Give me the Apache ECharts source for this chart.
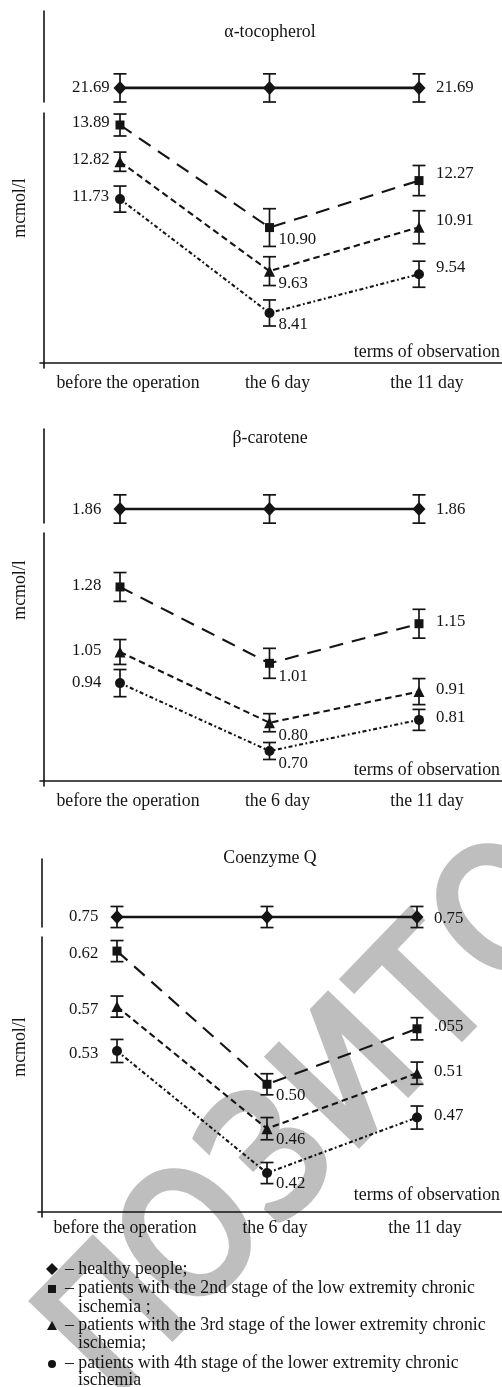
<!DOCTYPE html>
<html><head><meta charset="utf-8">
<script src="https://cdn.jsdelivr.net/npm/echarts@6/dist/echarts.min.js"></script>
<style>html,body{margin:0;padding:0;background:#fff}#c{width:502px;height:1387px}</style>
</head><body><div id="c"></div>
<script>
// ---------- DATA ----------
const categories = ['before the operation', 'the 6 day', 'the 11 day'];
const axisName = 'terms of observation';
const unitName = 'mcmol/l';

// α-tocopherol
const tocoHealthy = [21.69, 21.69, 21.69];
const tocoStage2  = [13.89, 10.90, 12.27];
const tocoStage3  = [12.82, 9.63, 10.91];
const tocoStage4  = [11.73, 8.41, 9.54];
const tocoErrH = [0.41, 0.41, 0.41];
const tocoErr2 = [0.32, 0.55, 0.44];
const tocoErr3 = [0.28, 0.42, 0.48];
const tocoErr4 = [0.38, 0.38, 0.38];
const tocoLblH = ['21.69', '', '21.69'];
const tocoLbl2 = ['13.89', '10.90', '12.27'];
const tocoLbl3 = ['12.82', '9.63', '10.91'];
const tocoLbl4 = ['11.73', '8.41', '9.54'];

// β-carotene
const caroHealthy = [1.86, 1.86, 1.86];
const caroStage2  = [1.28, 1.01, 1.15];
const caroStage3  = [1.05, 0.80, 0.91];
const caroStage4  = [0.94, 0.70, 0.81];
const caroErrH = [0.05, 0.05, 0.05];
const caroErr2 = [0.051, 0.053, 0.051];
const caroErr3 = [0.044, 0.032, 0.046];
const caroErr4 = [0.048, 0.030, 0.037];
const caroLblH = ['1.86', '', '1.86'];
const caroLbl2 = ['1.28', '1.01', '1.15'];
const caroLbl3 = ['1.05', '0.80', '0.91'];
const caroLbl4 = ['0.94', '0.70', '0.81'];

// Coenzyme Q
const coqHealthy = [0.75, 0.75, 0.75];
const coqStage2  = [0.62, 0.50, 0.55];
const coqStage3  = [0.57, 0.46, 0.51];
const coqStage4  = [0.53, 0.42, 0.47];
const coqErrH = [0.0095, 0.0095, 0.0095];
const coqErr2 = [0.0095, 0.0095, 0.010];
const coqErr3 = [0.0095, 0.010, 0.010];
const coqErr4 = [0.0104, 0.0095, 0.0104];
const coqLblH = ['0.75', '', '0.75'];
const coqLbl2 = ['0.62', '0.50', '.055'];
const coqLbl3 = ['0.57', '0.46', '0.51'];
const coqLbl4 = ['0.53', '0.42', '0.47'];

const legendTexts = [
  ['– healthy people;'],
  ['– patients with the 2nd stage of the low extremity chronic', 'ischemia ;'],
  ['– patients with the 3rd stage of the lower extremity chronic', 'ischemia;'],
  ['– patients with 4th stage of the lower extremity chronic', 'ischemia']
];
const watermarkText = 'ПОЗИТО';

// ---------- STYLE / LAYOUT ----------
const INK = '#141414';
const SERIF = '"Liberation Serif", "Times New Roman", serif';
const FS_TXT = 17.8, FS_NUM = 16.8;
const W = 502;

const marks = [
  {symbol: 'diamond', size: [13, 14], dash: 'solid', width: 2.6},
  {symbol: 'rect', size: [9, 9], dash: [14, 9], width: 2.1},
  {symbol: 'triangle', size: [11, 11], dash: [6.5, 4], width: 2.1},
  {symbol: 'circle', size: [10, 10], dash: [4, 2.5, 1.8, 2.5], width: 2.1}
];

const panels = [
  {title: 'α-tocopherol', titleY: 32, left: 40, ptX0: 120, step: 149.5,
   top: [11, 91], bot: [113, 255], topRange: [21.28, 23.93], botRange: [6.806, 14.24],
   xOff: 5, lblMargin: 11, termsPad: 2, unitY: 208,
   dyH: [0, 0], dy: [-2, 12, -7],
   vals: [tocoHealthy, tocoStage2, tocoStage3, tocoStage4],
   errs: [tocoErrH, tocoErr2, tocoErr3, tocoErr4],
   lbls: [tocoLblH, tocoLbl2, tocoLbl3, tocoLbl4]},
  {title: 'β-carotene', titleY: 438, left: 40, ptX0: 120, step: 149.5,
   top: [429, 94], bot: [533, 253], topRange: [1.8105, 2.143], botRange: [0.5762, 1.4708],
   xOff: 5, lblMargin: 11, termsPad: 2, unitY: 590,
   dyH: [1, 1], dy: [-1, 13, -2],
   vals: [caroHealthy, caroStage2, caroStage3, caroStage4],
   errs: [caroErrH, caroErr2, caroErr3, caroErr4],
   lbls: [caroLblH, caroLbl2, caroLbl3, caroLbl4]},
  {title: 'Coenzyme Q', titleY: 858, left: 38, ptX0: 117, step: 150,
   top: [859, 68], bot: [937, 280], topRange: [0.741, 0.8023], botRange: [0.3804, 0.6327],
   xOff: 5, lblMargin: 7, termsPad: 8, unitY: 1047,
   dyH: [0, 2], dy: [3, 11, -2],
   vals: [coqHealthy, coqStage2, coqStage3, coqStage4],
   errs: [coqErrH, coqErr2, coqErr3, coqErr4],
   lbls: [coqLblH, coqLbl2, coqLbl3, coqLbl4]}
];

const grids = [], xAxes = [], yAxes = [], series = [], graphics = [];

function errRender(params, api) {
  const x = api.value(0), v = api.value(1), e = api.value(2);
  const t = api.coord([x, v + e]), b = api.coord([x, v - e]);
  const hw = 6.5, st = {stroke: INK, lineWidth: 1.7};
  return {type: 'group', children: [
    {type: 'line', shape: {x1: t[0], y1: t[1], x2: b[0], y2: b[1]}, style: st},
    {type: 'line', shape: {x1: t[0] - hw, y1: t[1], x2: t[0] + hw, y2: t[1]}, style: st},
    {type: 'line', shape: {x1: b[0] - hw, y1: b[1], x2: b[0] + hw, y2: b[1]}, style: st}
  ]};
}

panels.forEach((p, pi) => {
  const xmin = -(p.ptX0 - p.left) / p.step;
  const xmax = 2 + (W - (p.ptX0 + 2 * p.step)) / p.step;
  const gTop = grids.length, gBot = gTop + 1;
  grids.push({left: p.left, right: 0, top: p.top[0], height: p.top[1], containLabel: false, outerBoundsMode: 'none'});
  grids.push({left: p.left, right: 0, top: p.bot[0], height: p.bot[1], containLabel: false, outerBoundsMode: 'none'});
  const baseX = {type: 'value', min: xmin, max: xmax, splitLine: {show: false}, axisTick: {show: false}};
  xAxes.push(Object.assign({}, baseX, {gridIndex: gTop, show: false}));
  xAxes.push(Object.assign({}, baseX, {
    gridIndex: gBot, position: 'bottom', offset: -p.xOff,
    axisLine: {show: true, onZero: false, lineStyle: {color: INK, width: 1.6}},
    axisLabel: {show: true, customValues: [0, 1, 2], formatter: v => categories[Math.round(v)],
      fontFamily: SERIF, fontSize: FS_TXT, color: INK, margin: p.lblMargin, padding: [0, 0, 0, 16]},
    name: axisName, nameLocation: 'end', nameGap: -2,
    nameTextStyle: {fontFamily: SERIF, fontSize: FS_TXT, color: INK, align: 'right', verticalAlign: 'bottom', padding: [0, 0, p.termsPad, 0]}
  }));
  const baseY = {type: 'value', position: 'left', offset: -4, splitLine: {show: false}, axisTick: {show: false},
    axisLabel: {show: false}, axisLine: {show: true, onZero: false, lineStyle: {color: INK, width: 1.6}}};
  yAxes.push(Object.assign({}, baseY, {gridIndex: gTop, min: p.topRange[0], max: p.topRange[1]}));
  yAxes.push(Object.assign({}, baseY, {gridIndex: gBot, min: p.botRange[0], max: p.botRange[1]}));

  p.vals.forEach((vals, si) => {
    const gi = si === 0 ? gTop : gBot;
    const m = marks[si];
    const lbls = p.lbls[si];
    const dys = si === 0 ? [p.dyH[0], 0, p.dyH[1]] : p.dy;
    const offX = [-48, 9, 17];
    series.push({
      type: 'custom', xAxisIndex: gi, yAxisIndex: gi, renderItem: errRender,
      data: vals.map((v, i) => [i, v, p.errs[si][i]]), encode: {x: 0, y: 1}, z: 2, silent: true
    });
    series.push({
      type: 'line', xAxisIndex: gi, yAxisIndex: gi, z: 3,
      symbol: m.symbol, symbolSize: m.size, showAllSymbol: true,
      itemStyle: {color: INK}, lineStyle: {color: INK, width: m.width, type: m.dash, cap: 'butt'},
      data: vals.map((v, i) => ({value: [i, v], label: {show: lbls[i] !== '', position: 'inside',
        align: 'left', verticalAlign: 'middle', offset: [offX[i], dys[i]]}})),
      label: {fontFamily: SERIF, fontSize: FS_NUM, color: INK, formatter: q => lbls[q.dataIndex]}
    });
  });

  graphics.push({type: 'text', x: 270, y: p.titleY, z: 10,
    style: {text: p.title, font: FS_TXT + 'px ' + SERIF, fill: INK, align: 'center', verticalAlign: 'middle'}});
  graphics.push({type: 'text', x: 20, y: p.unitY, rotation: Math.PI / 2, z: 10,
    style: {text: unitName, font: FS_TXT + 'px ' + SERIF, fill: INK, align: 'center', verticalAlign: 'middle'}});
});

// legend (drawn as graphic)
const legY = [[1269], [1288, 1307], [1325, 1343], [1363, 1380]];
const legSym = [
  {type: 'polygon', shape: {points: [[52, 1263], [58, 1269], [52, 1275], [46, 1269]]}},
  {type: 'rect', shape: {x: 48, y: 1285, width: 8, height: 8}},
  {type: 'polygon', shape: {points: [[52, 1321], [57, 1330], [47, 1330]]}},
  {type: 'circle', shape: {cx: 52, cy: 1364, r: 4}}
];
legendTexts.forEach((lines, k) => {
  graphics.push(Object.assign({}, legSym[k], {z: 10, style: {fill: INK}}));
  lines.forEach((t, j) => {
    graphics.push({type: 'text', x: j === 0 ? 65 : 78, y: legY[k][j], z: 10,
      style: {text: t, font: FS_TXT + 'px ' + SERIF, fill: INK, align: 'left', verticalAlign: 'middle'}});
  });
});

// watermark (letters placed along a diagonal)
const wmAng = 46 * Math.PI / 180, wmDir = [Math.cos(wmAng), -Math.sin(wmAng)];
const wmStart = [121, 1326], wmStep = 113;
watermarkText.split('').forEach((ch, k) => {
  graphics.push({type: 'text', x: wmStart[0] + k * wmStep * wmDir[0], y: wmStart[1] + k * wmStep * wmDir[1],
    rotation: wmAng, z: -10, silent: true,
    style: {text: ch, font: '172px "DejaVu Sans Condensed", "DejaVu Sans", sans-serif', fill: '#bebebe',
      stroke: '#bebebe', lineWidth: 7, align: 'center', verticalAlign: 'middle'}});
});

const chart = echarts.init(document.getElementById('c'), null, {renderer: 'canvas'});
chart.setOption({
  animation: false, backgroundColor: '#fff',
  grid: grids, xAxis: xAxes, yAxis: yAxes, series: series, graphic: graphics
});
</script></body></html>
